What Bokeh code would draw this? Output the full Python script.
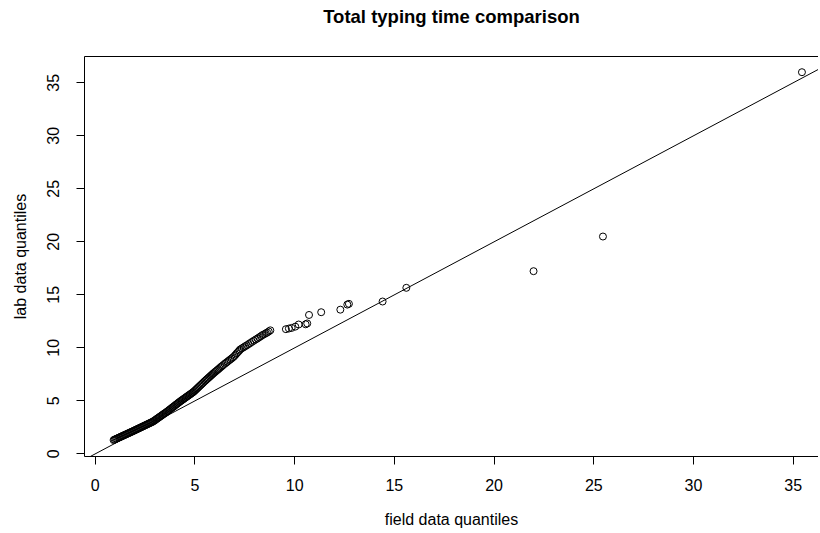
from bokeh.plotting import figure
from bokeh.models import Range1d, FixedTicker, Slope, LinearAxis, ColumnDataSource
from bokeh.embed import file_html
from bokeh.resources import INLINE

title_text = "Total typing time comparison"
x_label = "field data quantiles"
y_label = "lab data quantiles"
tick_values = [0, 5, 10, 15, 20, 25, 30, 35]

field_q = [
    0.92, 0.97, 1.02, 1.07, 1.12, 1.17, 1.22, 1.27, 1.32, 1.37, 1.42, 1.47, 1.52, 1.57, 1.62, 1.67, 1.72, 1.77, 1.82, 1.87,
    1.92, 1.97, 2.02, 2.07, 2.12, 2.17, 2.22, 2.27, 2.32, 2.37, 2.42, 2.47, 2.52, 2.57, 2.62, 2.67, 2.72, 2.77, 2.82, 2.87,
    2.92, 2.97, 3.02, 3.07, 3.12, 3.17, 3.22, 3.27, 3.32, 3.37, 3.42, 3.47, 3.52, 3.57,
    3.62, 3.67, 3.72, 3.77, 3.82, 3.87, 3.92, 3.97, 4.02, 4.07, 4.12, 4.17, 4.22,
    4.27, 4.32, 4.37, 4.42, 4.47, 4.52, 4.57, 4.62, 4.67, 4.72, 4.77, 4.82, 4.87, 4.92,
    4.97, 5.02, 5.07, 5.12, 5.17, 5.22, 5.27, 5.32, 5.37, 5.42,
    5.48, 5.53, 5.58, 5.63, 5.68, 5.73, 5.78, 5.83, 5.88, 5.93,
    5.99, 6.05, 6.11, 6.17, 6.23, 6.29, 6.35, 6.41,
    6.49, 6.56, 6.63, 6.70, 6.77, 6.84, 6.91,
    6.98, 7.04, 7.10, 7.16, 7.22, 7.27,
    7.35, 7.44, 7.52, 7.60, 7.69, 7.77,
    7.86, 7.95, 8.05, 8.14, 8.22, 8.30,
    8.38, 8.46, 8.55, 8.62, 8.70, 8.78,
    9.56, 9.71, 9.85, 10.03, 10.20, 10.55, 10.63, 10.72, 11.33, 12.29, 12.64, 12.72, 14.41, 15.60,
    21.98, 25.46, 35.44,
]
lab_q = [
    1.30, 1.34, 1.39, 1.43, 1.47, 1.52, 1.56, 1.60, 1.65, 1.69, 1.73, 1.78, 1.82, 1.86, 1.91, 1.95, 1.99, 2.04, 2.08, 2.12,
    2.17, 2.21, 2.26, 2.30, 2.35, 2.39, 2.44, 2.48, 2.53, 2.57, 2.62, 2.66, 2.71, 2.75, 2.80, 2.84, 2.89, 2.93, 2.98, 3.02,
    3.08, 3.14, 3.21, 3.28, 3.34, 3.41, 3.48, 3.54, 3.61, 3.68, 3.74, 3.81, 3.87, 3.94,
    4.01, 4.08, 4.16, 4.23, 4.30, 4.38, 4.45, 4.52, 4.60, 4.67, 4.74, 4.82, 4.89,
    4.96, 5.03, 5.10, 5.16, 5.23, 5.30, 5.37, 5.43, 5.50, 5.57, 5.63, 5.70, 5.77, 5.84,
    5.92, 6.01, 6.10, 6.19, 6.28, 6.37, 6.46, 6.55, 6.64, 6.73,
    6.84, 6.92, 7.01, 7.09, 7.18, 7.26, 7.35, 7.43, 7.52, 7.60,
    7.70, 7.79, 7.89, 7.98, 8.08, 8.18, 8.27, 8.37,
    8.49, 8.59, 8.69, 8.80, 8.90, 9.00, 9.11,
    9.23, 9.36, 9.49, 9.61, 9.74, 9.85,
    9.95, 10.05, 10.15, 10.24, 10.35, 10.45,
    10.56, 10.67, 10.79, 10.89, 10.99, 11.09,
    11.20, 11.27, 11.37, 11.44, 11.54, 11.65,
    11.76, 11.82, 11.88, 12.00, 12.20, 12.22, 12.30, 13.10, 13.36, 13.60, 14.08, 14.15, 14.37, 15.66,
    17.23, 20.50, 36.00,
]

FONT = "Liberation Sans"

p = figure(width=818, height=532,
           x_range=Range1d(-0.54, 36.27), y_range=Range1d(-0.25, 37.48),
           output_backend="svg", toolbar_location=None,
           min_border_left=84, min_border_top=56, min_border_right=0, min_border_bottom=76)

p.background_fill_color = "white"
p.border_fill_color = "white"
p.outline_line_color = None
p.xgrid.visible = False
p.ygrid.visible = False

for ax in (p.xaxis[0], p.yaxis[0]):
    ax.ticker = FixedTicker(ticks=tick_values)
    ax.minor_tick_line_color = None
    ax.major_tick_in = 0
    ax.major_tick_out = 8
    ax.major_tick_line_color = "black"
    ax.axis_line_color = "black"
    ax.major_label_text_font = FONT
    ax.major_label_text_font_size = "16px"
    ax.major_label_text_color = "black"
    ax.axis_label_text_font = FONT
    ax.axis_label_text_font_size = "16px"
    ax.axis_label_text_font_style = "normal"
    ax.axis_label_text_color = "black"

p.xaxis.axis_label = x_label
p.yaxis.axis_label = y_label
p.xaxis.major_label_standoff = 14
p.xaxis.axis_label_standoff = 17
p.yaxis.major_label_standoff = 17
p.yaxis.major_label_orientation = "parallel"
p.yaxis.axis_label_standoff = 16

# top box edge, carrying the chart title above it
top_axis = LinearAxis(ticker=FixedTicker(ticks=[]), axis_line_color="black",
                      major_tick_line_color=None, minor_tick_line_color=None,
                      major_tick_out=0, major_tick_in=0, major_label_standoff=0,
                      axis_label=title_text, axis_label_standoff=30,
                      axis_label_text_font=FONT, axis_label_text_font_size="18.5px",
                      axis_label_text_font_style="bold", axis_label_text_color="black")
p.add_layout(top_axis, "above")

p.add_layout(Slope(gradient=1, y_intercept=0, line_color="black", line_width=1))

src = ColumnDataSource(data=dict(x=field_q, y=lab_q))
p.scatter("x", "y", source=src, marker="circle", size=7,
          fill_color=None, line_color="black", line_width=1)

open("out.html", "w").write(file_html(p, INLINE))
